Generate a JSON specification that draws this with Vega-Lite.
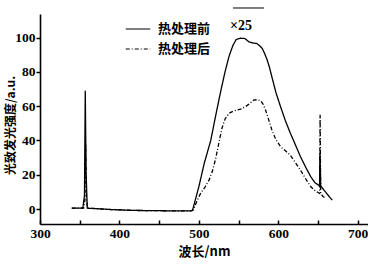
{
  "$schema": "https://vega.github.io/schema/vega-lite/v6.json",
  "width": 328,
  "height": 210,
  "autosize": {"type": "none"},
  "padding": {"left": 40, "top": 14, "right": 0, "bottom": 41},
  "background": "white",
  "config": {
    "view": {"stroke": null},
    "font": "Liberation Serif"
  },
  "datasets": {
    "spec": [
      {"s": "热处理前", "wl": 340, "v": 0.5},
      {"s": "热处理前", "wl": 350, "v": 0.5},
      {"s": "热处理前", "wl": 354, "v": 0.7},
      {"s": "热处理前", "wl": 356, "v": 8},
      {"s": "热处理前", "wl": 357, "v": 69},
      {"s": "热处理前", "wl": 358, "v": 22},
      {"s": "热处理前", "wl": 359.5, "v": 0.5},
      {"s": "热处理前", "wl": 370, "v": 0.3},
      {"s": "热处理前", "wl": 390, "v": -0.3},
      {"s": "热处理前", "wl": 420, "v": -0.8},
      {"s": "热处理前", "wl": 460, "v": -1},
      {"s": "热处理前", "wl": 490, "v": -1},
      {"s": "热处理前", "wl": 492, "v": -0.8},
      {"s": "热处理前", "wl": 500, "v": 13},
      {"s": "热处理前", "wl": 507, "v": 27},
      {"s": "热处理前", "wl": 515, "v": 40},
      {"s": "热处理前", "wl": 521, "v": 54},
      {"s": "热处理前", "wl": 527, "v": 67.5},
      {"s": "热处理前", "wl": 533, "v": 80},
      {"s": "热处理前", "wl": 538, "v": 89},
      {"s": "热处理前", "wl": 543, "v": 95.5},
      {"s": "热处理前", "wl": 547, "v": 98.8},
      {"s": "热处理前", "wl": 552, "v": 99.6},
      {"s": "热处理前", "wl": 558, "v": 99.4},
      {"s": "热处理前", "wl": 563, "v": 97.5},
      {"s": "热处理前", "wl": 568, "v": 96.8},
      {"s": "热处理前", "wl": 573, "v": 96.5},
      {"s": "热处理前", "wl": 577, "v": 95},
      {"s": "热处理前", "wl": 580, "v": 93.5},
      {"s": "热处理前", "wl": 583, "v": 90.5},
      {"s": "热处理前", "wl": 586, "v": 87},
      {"s": "热处理前", "wl": 589, "v": 82.5},
      {"s": "热处理前", "wl": 592, "v": 77},
      {"s": "热处理前", "wl": 597, "v": 68},
      {"s": "热处理前", "wl": 603, "v": 59.5},
      {"s": "热处理前", "wl": 609, "v": 51.5},
      {"s": "热处理前", "wl": 615, "v": 44.5},
      {"s": "热处理前", "wl": 622, "v": 37},
      {"s": "热处理前", "wl": 628, "v": 30.5},
      {"s": "热处理前", "wl": 635, "v": 24},
      {"s": "热处理前", "wl": 641, "v": 18.8},
      {"s": "热处理前", "wl": 646, "v": 15.5},
      {"s": "热处理前", "wl": 651, "v": 13.8},
      {"s": "热处理前", "wl": 652, "v": 14},
      {"s": "热处理前", "wl": 652.5, "v": 33},
      {"s": "热处理前", "wl": 653.5, "v": 13.5},
      {"s": "热处理前", "wl": 656, "v": 12},
      {"s": "热处理前", "wl": 662, "v": 8.5},
      {"s": "热处理前", "wl": 668, "v": 5.2},
      {"s": "热处理后", "wl": 340, "v": 0.5},
      {"s": "热处理后", "wl": 350, "v": 0.5},
      {"s": "热处理后", "wl": 355, "v": 0.5},
      {"s": "热处理后", "wl": 356.5, "v": 5},
      {"s": "热处理后", "wl": 357.5, "v": 38},
      {"s": "热处理后", "wl": 358.5, "v": 6},
      {"s": "热处理后", "wl": 360, "v": 0.5},
      {"s": "热处理后", "wl": 370, "v": 0.2},
      {"s": "热处理后", "wl": 390, "v": -0.3},
      {"s": "热处理后", "wl": 420, "v": -0.8},
      {"s": "热处理后", "wl": 460, "v": -1},
      {"s": "热处理后", "wl": 490, "v": -1},
      {"s": "热处理后", "wl": 493, "v": -0.5},
      {"s": "热处理后", "wl": 497, "v": 4},
      {"s": "热处理后", "wl": 502, "v": 9},
      {"s": "热处理后", "wl": 508, "v": 13},
      {"s": "热处理后", "wl": 513, "v": 17},
      {"s": "热处理后", "wl": 517, "v": 22},
      {"s": "热处理后", "wl": 521, "v": 29},
      {"s": "热处理后", "wl": 525, "v": 38},
      {"s": "热处理后", "wl": 529, "v": 47},
      {"s": "热处理后", "wl": 533, "v": 52.5},
      {"s": "热处理后", "wl": 538, "v": 55.8},
      {"s": "热处理后", "wl": 543, "v": 57},
      {"s": "热处理后", "wl": 548, "v": 57.7},
      {"s": "热处理后", "wl": 554, "v": 58.5},
      {"s": "热处理后", "wl": 559, "v": 59.8},
      {"s": "热处理后", "wl": 564, "v": 61.5},
      {"s": "热处理后", "wl": 569, "v": 63.5},
      {"s": "热处理后", "wl": 574, "v": 63.8},
      {"s": "热处理后", "wl": 578, "v": 63},
      {"s": "热处理后", "wl": 581, "v": 61},
      {"s": "热处理后", "wl": 584, "v": 57.7},
      {"s": "热处理后", "wl": 588, "v": 52},
      {"s": "热处理后", "wl": 592, "v": 46.1},
      {"s": "热处理后", "wl": 597, "v": 40.5},
      {"s": "热处理后", "wl": 603, "v": 36.3},
      {"s": "热处理后", "wl": 609, "v": 34},
      {"s": "热处理后", "wl": 615, "v": 31.5},
      {"s": "热处理后", "wl": 621, "v": 27.5},
      {"s": "热处理后", "wl": 628, "v": 22.7},
      {"s": "热处理后", "wl": 634, "v": 18},
      {"s": "热处理后", "wl": 641, "v": 13},
      {"s": "热处理后", "wl": 647, "v": 10.5},
      {"s": "热处理后", "wl": 652, "v": 9.2},
      {"s": "热处理后", "wl": 652.7, "v": 55},
      {"s": "热处理后", "wl": 653.4, "v": 9.2},
      {"s": "热处理后", "wl": 656, "v": 7.5},
      {"s": "热处理后", "wl": 660, "v": 6.2}
    ],
    "annot": [
      {"label": "×25", "wl": 553, "v": 106.5, "wl2": 543, "wl3": 582, "vl": 117.2}
    ]
  },
  "layer": [
    {
      "data": {"name": "spec"},
      "mark": {"type": "line", "color": "black", "strokeWidth": 1.3, "clip": false},
      "encoding": {
        "x": {
          "field": "wl", "type": "quantitative",
          "scale": {"domain": [300, 713], "nice": false, "zero": false},
          "axis": {
            "title": "波长/nm",
            "titleFont": "Noto Sans CJK SC",
            "titleFontWeight": "bold",
            "titleFontSize": 13,
            "titleColor": "black",
            "titlePadding": 6,
            "values": [300, 325, 350, 375, 400, 425, 450, 475, 500, 525, 550, 575, 600, 625, 650, 675, 700],
            "labelExpr": "datum.value % 100 == 0 ? datum.value : ''",
            "labelFlush": false,
            "labelOverlap": false,
            "labelFont": "Liberation Serif",
            "labelFontWeight": "bold",
            "labelFontSize": 13.5,
            "labelColor": "black",
            "labelPadding": 6,
            "tickSize": -4,
            "tickColor": "black",
            "tickWidth": 1.5,
            "domainColor": "black",
            "domainWidth": 1.6,
            "grid": false
          }
        },
        "y": {
          "field": "v", "type": "quantitative",
          "scale": {"domain": [-8.7, 113.7], "nice": false, "zero": false},
          "axis": {
            "title": "光致发光强度/a.u.",
            "titleFont": "Noto Sans CJK SC",
            "titleFontWeight": "bold",
            "titleFontSize": 12,
            "titleColor": "black",
            "titleX": -23,
            "titleY": 111,
            "values": [0, 20, 40, 60, 80, 100],
            "labelFlush": false,
            "labelFont": "Liberation Serif",
            "labelFontWeight": "bold",
            "labelFontSize": 13.5,
            "labelColor": "black",
            "labelPadding": 1,
            "tickSize": 4,
            "tickColor": "black",
            "tickWidth": 1.5,
            "domainColor": "black",
            "domainWidth": 1.6,
            "grid": false
          }
        },
        "strokeDash": {
          "field": "s", "type": "nominal",
          "scale": {"domain": ["热处理前", "热处理后"], "range": [[1, 0], [4, 2, 1, 2]]},
          "legend": {
            "title": null,
            "orient": "none",
            "legendX": 85,
            "legendY": 2,
            "symbolType": "stroke",
            "symbolSize": 600,
            "symbolStrokeColor": "black",
            "symbolStrokeWidth": 1.2,
            "labelFont": "Noto Sans CJK SC",
            "labelFontWeight": "bold",
            "labelFontSize": 13,
            "labelColor": "black",
            "labelOffset": 7,
            "rowPadding": 0
          }
        }
      }
    },
    {
      "data": {"name": "annot"},
      "mark": {"type": "text", "font": "Liberation Serif", "fontWeight": "bold", "fontSize": 14, "color": "black", "clip": false},
      "encoding": {
        "x": {"field": "wl", "type": "quantitative"},
        "y": {"field": "v", "type": "quantitative"},
        "text": {"field": "label"}
      }
    },
    {
      "data": {"name": "annot"},
      "mark": {"type": "rule", "color": "black", "strokeWidth": 1, "clip": false},
      "encoding": {
        "x": {"field": "wl2", "type": "quantitative"},
        "x2": {"field": "wl3"},
        "y": {"field": "vl", "type": "quantitative"}
      }
    }
  ]
}
